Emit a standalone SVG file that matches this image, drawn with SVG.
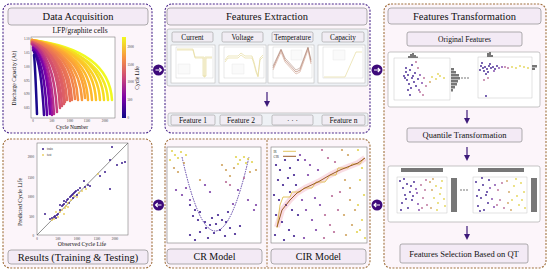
<svg xmlns="http://www.w3.org/2000/svg" width="550" height="273" viewBox="0 0 550 273">
<style>
.pp{fill:#fcf5fa;stroke:#4b2a8c;stroke-width:1.1;stroke-dasharray:2 1.4}
.pb{fill:#fcf5fa;stroke:#a0703c;stroke-width:1.1;stroke-dasharray:2 1.4}
.tb{fill:#f3eaf5;stroke:#8c8c8c;stroke-width:0.7}
.sb{fill:#f1edf4;stroke:#9a9a9a;stroke-width:0.6}
.t{font-family:"Liberation Serif","Times New Roman",serif;fill:#111;text-anchor:middle}
.tick{font-family:"Liberation Serif",serif;font-size:3.2px;fill:#333}
.frame{fill:#fff;stroke:#666;stroke-width:0.5}
.mini{fill:#fff;stroke:#b0b0b0;stroke-width:0.5}
.ml{fill:none;stroke:#e6dca0;stroke-width:0.7}
.cv{fill:none;stroke-width:2.5;stroke-linecap:round}
.p1{fill:#3b1c8c}.p2{fill:#7a3fa6}.p3{fill:#b86a96}.p4{fill:#cfa35e}.p5{fill:#e3d453}
.hist{fill:#777}
.arr{stroke:#3d1a7a;stroke-width:1.2;fill:none}
.circ{fill:#3d0a7a}
</style>
<defs>
<marker id="ah" markerWidth="6" markerHeight="6" refX="3" refY="3" orient="auto" markerUnits="userSpaceOnUse"><path d="M0,0 L6,3 L0,6 z" fill="#3d1a7a"/></marker>
<linearGradient id="cb" x1="0" y1="1" x2="0" y2="0"><stop offset="0" stop-color="#0d0887"/><stop offset="0.25" stop-color="#7e03a8"/><stop offset="0.5" stop-color="#cc4778"/><stop offset="0.75" stop-color="#f89540"/><stop offset="1" stop-color="#f0f921"/></linearGradient>
</defs>
<rect width="550" height="273" fill="#fff"/>

<g id="data-acquisition">
<rect class="pp" x="3" y="4" width="149" height="129" rx="7"/>
<rect class="tb" x="8" y="8" width="140" height="17" rx="3"/>
<text class="t" x="78" y="20" font-size="10.5">Data Acquisition</text>
<text class="t" x="80" y="32.5" font-size="7.5">LFP/graphite cells</text>
<rect class="frame" x="31" y="37" width="84" height="81"/>
<path class="cv" stroke="#f0f921" d="M32,40 Q109,50 112,100"/>
<path class="cv" stroke="#f3e822" d="M32,42 Q105,52 108,100"/>
<path class="cv" stroke="#f5dc22" d="M32,40 Q101,50 104,100"/>
<path class="cv" stroke="#fad025" d="M32,41 Q97,51 100,100"/>
<path class="cv" stroke="#fcc428" d="M32,40 Q93,50 96,100"/>
<path class="cv" stroke="#fdb82d" d="M32,41 Q89,51 92,100"/>
<path class="cv" stroke="#fdae32" d="M32,40 Q85,50 88,100"/>
<path class="cv" stroke="#fba238" d="M32,41 Q82,51 85,98"/>
<path class="cv" stroke="#f99b3e" d="M32,42 Q79,52 82,100"/>
<path class="cv" stroke="#f68f44" d="M32,40 Q75,50 78,100"/>
<path class="cv" stroke="#f1834b" d="M32,41 Q72,51 75,99"/>
<path class="cv" stroke="#ec7853" d="M32,42 Q69,52 72,100"/>
<path class="cv" stroke="#e87058" d="M32,43 Q67,53 70,101"/>
<path class="cv" stroke="#e56b5d" d="M32,44 Q64,54 67,100"/>
<path class="cv" stroke="#e06462" d="M32,43 Q62,53 65,102"/>
<path class="cv" stroke="#dd5e66" d="M32,42 Q61,52 64,104"/>
<path class="cv" stroke="#d8576b" d="M32,44 Q59,54 62,106"/>
<path class="cv" stroke="#d24f70" d="M32,43 Q57,53 60,108"/>
<path class="cv" stroke="#c43e7f" d="M32,44 Q54,54 57,112"/>
<path class="cv" stroke="#b52f8c" d="M33,45 Q51,55 54,114"/>
<path class="cv" stroke="#9c179e" d="M33,47 Q49,57 52,115"/>
<path class="cv" stroke="#7a04a8" d="M33,48 Q47,58 50,114"/>
<path class="cv" stroke="#5a02a3" d="M33,50 Q44,60 47,115"/>
<path class="cv" stroke="#3a049a" d="M34,52 Q41,62 44,115"/>
<path class="cv" stroke="#1a0a8c" d="M34,55 Q35,62 37,114"/>
<g class="tick" text-anchor="end">
<text x="29.5" y="40">1.10</text><text x="29.5" y="54">1.05</text><text x="29.5" y="68">1.00</text><text x="29.5" y="82">0.95</text><text x="29.5" y="95">0.90</text><text x="29.5" y="109">0.85</text>
</g>
<g class="tick" text-anchor="middle">
<text x="33" y="122">0</text><text x="52" y="122">500</text><text x="70" y="122">1000</text><text x="87" y="122">1500</text><text x="105" y="122">2000</text>
</g>
<text class="t" x="72" y="129" font-size="5.5">Cycle Number</text>
<text class="t" font-size="5.5" transform="translate(16,78) rotate(-90)">Discharge Capacity (Ah)</text>
<rect x="122" y="37" width="4" height="81" fill="url(#cb)"/>
<g class="tick">
<text x="127.5" y="48">2000</text><text x="127.5" y="66">1500</text><text x="127.5" y="83">1000</text><text x="127.5" y="101">500</text><text x="127.5" y="119">0</text>
</g>
<text class="t" font-size="5.5" transform="translate(139,78) rotate(-90)">Cycle Life</text>
</g>

<g id="features-extraction">
<rect class="pp" x="165" y="4" width="205" height="129" rx="7"/>
<rect class="tb" x="167" y="8" width="200" height="17" rx="3"/>
<text class="t" x="267" y="20" font-size="10.5">Features Extraction</text>
<rect x="167" y="29" width="201" height="57" rx="2" fill="#eef1f5" stroke="#a8a8a8" stroke-width="0.6"/>
<rect class="sb" x="172" y="32" width="41" height="10" rx="1.5"/>
<rect class="sb" x="222" y="32" width="41" height="10" rx="1.5"/>
<rect class="sb" x="272" y="32" width="41" height="10" rx="1.5"/>
<rect class="sb" x="322" y="32" width="42" height="10" rx="1.5"/>
<text class="t" x="192.5" y="39.6" font-size="7.3">Current</text>
<text class="t" x="242.5" y="39.6" font-size="7.3">Voltage</text>
<text class="t" x="292.5" y="39.6" font-size="7.3">Temperature</text>
<text class="t" x="343" y="39.6" font-size="7.3">Capacity</text>
<rect class="mini" x="171" y="45" width="44" height="38"/>
<rect class="mini" x="219" y="45" width="47" height="38"/>
<rect class="mini" x="268" y="45" width="46" height="38"/>
<rect class="mini" x="318" y="45" width="47" height="38"/>
<g fill="none" stroke="#c8c8c8" stroke-width="0.4">
<rect x="176" y="47" width="37" height="31"/>
<rect x="224" y="47" width="40" height="31"/>
<rect x="273" y="47" width="39" height="31"/>
<rect x="323" y="47" width="40" height="31"/>
</g>
<path class="ml" d="M177,49 H193 L195,57 H204 V77 H205 V57 H212"/>
<path class="ml" d="M177,50 H193 L195,58 H203 V76 H206 V58 H212" stroke="#eee2b0"/>
<rect x="178" y="64" width="12" height="10" fill="#fafafa" stroke="#ddd" stroke-width="0.3"/>
<path class="ml" d="M225,60 L228,56 H238 L241,53 L245,56 H252 L254,62 L256,70 L258,76 L260,58 L263,55"/>
<path class="ml" d="M225,62 L228,58 H238 L241,55 L245,58 H252 L254,64 L256,72 L258,77 L260,60 L263,57" stroke="#eee2b0"/>
<rect x="232" y="64" width="12" height="10" fill="#fafafa" stroke="#ddd" stroke-width="0.3"/>
<path d="M273,68 L281,50 L285,60 L296,72 L300,70 L308,48 L311,62" fill="none" stroke="#c09080" stroke-width="0.8"/>
<path d="M273,70 L281,52 L285,62 L296,74 L300,72 L308,50 L311,64" fill="none" stroke="#d8b0a0" stroke-width="0.7"/>
<path d="M273,66 L281,49 L285,58 L296,70 L300,68 L308,47 L311,60" fill="none" stroke="#a07868" stroke-width="0.5"/>
<rect x="291" y="50" width="11" height="10" fill="#fafafa" stroke="#ddd" stroke-width="0.3"/>
<path class="ml" d="M324,77 H345 L356,52 H362"/>
<rect x="333" y="50" width="12" height="10" fill="#fafafa" stroke="#ddd" stroke-width="0.3"/>
<rect x="168" y="113" width="200" height="13" rx="2" fill="#eef1f5" stroke="#a8a8a8" stroke-width="0.6"/>
<rect class="sb" x="171" y="115" width="44" height="10" rx="1.5"/>
<rect class="sb" x="220" y="115" width="42" height="10" rx="1.5"/>
<rect class="sb" x="272" y="115" width="41" height="10" rx="1.5"/>
<rect class="sb" x="322" y="115" width="43" height="10" rx="1.5"/>
<text class="t" x="193" y="122.6" font-size="7.5">Feature 1</text>
<text class="t" x="241" y="122.6" font-size="7.5">Feature 2</text>
<text class="t" x="292.5" y="122.6" font-size="7.5">· · ·</text>
<text class="t" x="343.5" y="122.6" font-size="7.5">Feature n</text>
</g>

<g id="features-transformation">
<rect class="pb" x="384" y="4" width="162" height="264" rx="7"/>
<rect class="tb" x="388" y="8" width="153" height="16" rx="3"/>
<text class="t" x="464.5" y="19.8" font-size="10.5">Features Transformation</text>
<rect class="tb" x="407" y="32" width="115" height="14" rx="2"/>
<text class="t" x="464.5" y="41.5" font-size="7.6">Original Features</text>
<rect x="388" y="52" width="152" height="55" rx="2" fill="#fff" stroke="#a0a0a0" stroke-width="0.6"/>
<rect x="394" y="58" width="56" height="42" fill="none" stroke="#bbb" stroke-width="0.4"/>
<g>
<circle class="p1" cx="406" cy="72" r="0.9"/><circle class="p1" cx="408" cy="75" r="0.9"/><circle class="p1" cx="410" cy="70" r="0.9"/><circle class="p1" cx="412" cy="78" r="0.9"/><circle class="p1" cx="407" cy="80" r="0.9"/><circle class="p1" cx="409" cy="84" r="0.9"/><circle class="p1" cx="411" cy="88" r="0.9"/><circle class="p1" cx="413" cy="76" r="0.9"/><circle class="p1" cx="415" cy="73" r="0.9"/><circle class="p1" cx="405" cy="78" r="0.9"/><circle class="p1" cx="408" cy="90" r="0.9"/><circle class="p1" cx="410" cy="95" r="0.9"/><circle class="p1" cx="414" cy="82" r="0.9"/><circle class="p1" cx="416" cy="86" r="0.9"/><circle class="p1" cx="418" cy="79" r="0.9"/><circle class="p1" cx="412" cy="65" r="0.9"/><circle class="p2" cx="420" cy="75" r="0.9"/><circle class="p2" cx="422" cy="83" r="0.9"/><circle class="p2" cx="419" cy="90" r="0.9"/><circle class="p1" cx="404" cy="76" r="0.9"/><circle class="p1" cx="406" cy="68" r="0.9"/>
<circle class="p3" cx="418" cy="68" r="0.9"/><circle class="p3" cx="420" cy="92" r="0.9"/><circle class="p3" cx="424" cy="78" r="0.9"/><circle class="p3" cx="426" cy="86" r="0.9"/><circle class="p3" cx="416" cy="62" r="0.9"/><circle class="p3" cx="423" cy="95" r="0.9"/>
<circle class="p5" cx="432" cy="77" r="0.9"/><circle class="p5" cx="436" cy="79" r="0.9"/><circle class="p5" cx="440" cy="76" r="0.9"/><circle class="p5" cx="444" cy="78" r="0.9"/><circle class="p4" cx="430" cy="82" r="0.9"/><circle class="p5" cx="438" cy="74" r="0.9"/>
</g>
<g class="hist">
<rect x="451" y="68" width="3" height="2.5"/><rect x="451" y="71" width="5" height="2.5"/><rect x="451" y="74" width="8" height="2.5"/><rect x="451" y="77" width="9" height="2.5"/><rect x="451" y="80" width="7" height="2.5"/><rect x="451" y="83" width="6" height="2.5"/><rect x="451" y="86" width="4" height="2.5"/><rect x="451" y="89" width="2" height="2.5"/>
<rect x="408" y="56" width="2" height="2"/><rect x="410" y="54" width="2" height="4"/><rect x="412" y="53" width="2" height="5"/><rect x="414" y="55" width="2" height="3"/><rect x="416" y="56.5" width="2" height="1.5"/>
</g>
<g fill="#444"><circle cx="462" cy="78" r="0.7"/><circle cx="465" cy="78" r="0.7"/><circle cx="468" cy="78" r="0.7"/></g>
<rect x="478" y="57" width="54" height="41" fill="none" stroke="#bbb" stroke-width="0.4"/>
<g>
<circle class="p1" cx="481" cy="66" r="0.9"/><circle class="p1" cx="483" cy="68" r="0.9"/><circle class="p1" cx="485" cy="67" r="0.9"/><circle class="p1" cx="487" cy="69" r="0.9"/><circle class="p1" cx="489" cy="66" r="0.9"/><circle class="p1" cx="491" cy="68" r="0.9"/><circle class="p1" cx="493" cy="67" r="0.9"/><circle class="p1" cx="495" cy="69" r="0.9"/><circle class="p1" cx="497" cy="66" r="0.9"/><circle class="p2" cx="499" cy="68" r="0.9"/><circle class="p1" cx="484" cy="71" r="0.9"/><circle class="p1" cx="488" cy="72" r="0.9"/><circle class="p1" cx="482" cy="63" r="0.9"/><circle class="p1" cx="486" cy="74" r="0.9"/><circle class="p1" cx="490" cy="64" r="0.9"/><circle class="p2" cx="494" cy="71" r="0.9"/><circle class="p1" cx="480" cy="70" r="0.9"/><circle class="p2" cx="502" cy="67" r="0.9"/>
<circle class="p3" cx="505" cy="67" r="0.9"/><circle class="p3" cx="508" cy="68" r="0.9"/><circle class="p3" cx="488" cy="78" r="0.9"/><circle class="p3" cx="484" cy="80" r="0.9"/>
<circle class="p5" cx="512" cy="67" r="0.9"/><circle class="p5" cx="516" cy="68" r="0.9"/><circle class="p5" cx="520" cy="66" r="0.9"/><circle class="p5" cx="524" cy="67" r="0.9"/><circle class="p5" cx="528" cy="68" r="0.9"/><circle class="p1" cx="486" cy="96" r="0.9"/>
</g>
<g class="hist">
<rect x="532" y="65" width="5" height="2.5"/><rect x="532" y="68" width="3" height="2"/>
<rect x="487" y="53" width="2" height="4"/><rect x="489" y="52" width="2" height="5"/><rect x="491" y="55" width="2" height="2"/>
</g>
<line class="arr" x1="467" y1="110" x2="467" y2="121" marker-end="url(#ah)"/>
<rect class="tb" x="407" y="128" width="115" height="14" rx="2"/>
<text class="t" x="464.5" y="137.8" font-size="8.5">Quantile Transformation</text>
<line class="arr" x1="467" y1="147" x2="467" y2="158" marker-end="url(#ah)"/>
<rect x="388" y="166" width="152" height="56" rx="2" fill="#fff" stroke="#a0a0a0" stroke-width="0.6"/>
<rect x="397" y="177" width="50" height="36" fill="none" stroke="#bbb" stroke-width="0.4"/>
<rect class="hist" x="401" y="168" width="42" height="4"/>
<rect class="hist" x="451" y="178" width="6" height="34"/>
<g>
<circle class="p1" cx="400" cy="181" r="0.9"/><circle class="p1" cx="403" cy="188" r="0.9"/><circle class="p1" cx="405" cy="195" r="0.9"/><circle class="p1" cx="402" cy="203" r="0.9"/><circle class="p1" cx="407" cy="184" r="0.9"/><circle class="p1" cx="410" cy="192" r="0.9"/><circle class="p1" cx="412" cy="200" r="0.9"/><circle class="p1" cx="408" cy="208" r="0.9"/><circle class="p1" cx="414" cy="182" r="0.9"/><circle class="p2" cx="416" cy="189" r="0.9"/><circle class="p1" cx="413" cy="196" r="0.9"/><circle class="p2" cx="418" cy="204" r="0.9"/><circle class="p1" cx="401" cy="210" r="0.9"/><circle class="p1" cx="406" cy="199" r="0.9"/><circle class="p1" cx="411" cy="186" r="0.9"/><circle class="p2" cx="417" cy="193" r="0.9"/><circle class="p2" cx="419" cy="210" r="0.9"/><circle class="p1" cx="404" cy="179" r="0.9"/>
<circle class="p3" cx="421" cy="185" r="0.9"/><circle class="p3" cx="423" cy="198" r="0.9"/><circle class="p3" cx="425" cy="190" r="0.9"/><circle class="p3" cx="427" cy="205" r="0.9"/><circle class="p3" cx="422" cy="208" r="0.9"/><circle class="p3" cx="426" cy="180" r="0.9"/>
<circle class="p4" cx="430" cy="182" r="0.9"/><circle class="p4" cx="432" cy="190" r="0.9"/><circle class="p5" cx="434" cy="198" r="0.9"/><circle class="p5" cx="436" cy="186" r="0.9"/><circle class="p5" cx="438" cy="203" r="0.9"/><circle class="p5" cx="440" cy="194" r="0.9"/><circle class="p5" cx="442" cy="181" r="0.9"/><circle class="p5" cx="444" cy="199" r="0.9"/><circle class="p4" cx="431" cy="208" r="0.9"/><circle class="p5" cx="437" cy="210" r="0.9"/><circle class="p5" cx="441" cy="188" r="0.9"/><circle class="p5" cx="445" cy="206" r="0.9"/><circle class="p4" cx="433" cy="179" r="0.9"/>
</g>
<g fill="#444"><circle cx="461" cy="190" r="0.7"/><circle cx="464" cy="190" r="0.7"/><circle cx="467" cy="190" r="0.7"/></g>
<rect x="473" y="177" width="54" height="36" fill="none" stroke="#bbb" stroke-width="0.4"/>
<rect class="hist" x="478" y="168" width="46" height="4"/>
<rect class="hist" x="531" y="178" width="6" height="34"/>
<g>
<circle class="p1" cx="476" cy="182" r="0.9"/><circle class="p1" cx="479" cy="190" r="0.9"/><circle class="p1" cx="481" cy="198" r="0.9"/><circle class="p1" cx="478" cy="206" r="0.9"/><circle class="p1" cx="483" cy="185" r="0.9"/><circle class="p1" cx="486" cy="195" r="0.9"/><circle class="p1" cx="488" cy="203" r="0.9"/><circle class="p1" cx="484" cy="210" r="0.9"/><circle class="p2" cx="490" cy="188" r="0.9"/><circle class="p2" cx="492" cy="199" r="0.9"/><circle class="p1" cx="477" cy="196" r="0.9"/><circle class="p1" cx="482" cy="178" r="0.9"/><circle class="p1" cx="489" cy="180" r="0.9"/><circle class="p2" cx="494" cy="207" r="0.9"/><circle class="p1" cx="480" cy="211" r="0.9"/><circle class="p1" cx="487" cy="192" r="0.9"/><circle class="p2" cx="495" cy="185" r="0.9"/>
<circle class="p3" cx="498" cy="190" r="0.9"/><circle class="p3" cx="500" cy="200" r="0.9"/><circle class="p3" cx="502" cy="183" r="0.9"/><circle class="p3" cx="504" cy="208" r="0.9"/><circle class="p3" cx="497" cy="205" r="0.9"/>
<circle class="p4" cx="507" cy="181" r="0.9"/><circle class="p4" cx="509" cy="192" r="0.9"/><circle class="p5" cx="512" cy="200" r="0.9"/><circle class="p5" cx="514" cy="186" r="0.9"/><circle class="p5" cx="517" cy="196" r="0.9"/><circle class="p5" cx="519" cy="205" r="0.9"/><circle class="p5" cx="521" cy="183" r="0.9"/><circle class="p5" cx="524" cy="192" r="0.9"/><circle class="p4" cx="511" cy="210" r="0.9"/><circle class="p5" cx="516" cy="179" r="0.9"/><circle class="p5" cx="522" cy="200" r="0.9"/><circle class="p5" cx="525" cy="208" r="0.9"/><circle class="p4" cx="508" cy="203" r="0.9"/>
</g>
<line class="arr" x1="467" y1="226" x2="467" y2="237" marker-end="url(#ah)"/>
<rect class="tb" x="400" y="244" width="128" height="19" rx="2"/>
<text class="t" x="464" y="256.5" font-size="8.5">Features Selection Based on QT</text>
</g>

<g id="models">
<rect class="pb" x="165" y="139" width="205" height="129" rx="7"/>
<line x1="267" y1="140" x2="267" y2="267" stroke="#a0703c" stroke-width="1" stroke-dasharray="2 1.4"/>
<g id="cr-model">
<rect class="frame" x="167" y="147" width="94" height="96"/>
<path d="M182,157 Q215,305 249,157" fill="none" stroke="#4b2c9c" stroke-width="0.9" stroke-dasharray="1.5 1"/>
<g>
<circle class="p5" cx="172" cy="151" r="1.1"/><circle class="p5" cx="175" cy="155" r="1.1"/><circle class="p5" cx="181" cy="152" r="1.1"/><circle class="p5" cx="186" cy="155" r="1.1"/><circle class="p5" cx="170" cy="160" r="1.1"/><circle class="p5" cx="178" cy="158" r="1.1"/><circle class="p5" cx="236" cy="157" r="1.1"/><circle class="p5" cx="240" cy="160" r="1.1"/><circle class="p5" cx="244" cy="157" r="1.1"/><circle class="p5" cx="248" cy="159" r="1.1"/><circle class="p5" cx="246" cy="163" r="1.1"/><circle class="p5" cx="252" cy="162" r="1.1"/><circle class="p5" cx="238" cy="164" r="1.1"/>
<circle class="p4" cx="174" cy="168" r="1.1"/><circle class="p4" cx="178" cy="172" r="1.1"/><circle class="p4" cx="184" cy="163" r="1.1"/><circle class="p4" cx="222" cy="165" r="1.1"/><circle class="p4" cx="226" cy="170" r="1.1"/><circle class="p4" cx="230" cy="176" r="1.1"/><circle class="p4" cx="234" cy="168" r="1.1"/><circle class="p4" cx="250" cy="172" r="1.1"/><circle class="p4" cx="256" cy="170" r="1.1"/><circle class="p4" cx="200" cy="180" r="1.1"/>
<circle class="p2" cx="176" cy="190" r="1.1"/><circle class="p2" cx="182" cy="195" r="1.1"/><circle class="p2" cx="186" cy="188" r="1.1"/><circle class="p2" cx="190" cy="200" r="1.1"/><circle class="p2" cx="205" cy="185" r="1.1"/><circle class="p2" cx="210" cy="192" r="1.1"/><circle class="p3" cx="226" cy="182" r="1.1"/><circle class="p3" cx="230" cy="185" r="1.1"/><circle class="p2" cx="238" cy="190" r="1.1"/><circle class="p3" cx="244" cy="178" r="1.1"/><circle class="p2" cx="254" cy="210" r="1.1"/><circle class="p2" cx="256" cy="205" r="1.1"/><circle class="p2" cx="248" cy="200" r="1.1"/>
<circle class="p1" cx="190" cy="205" r="1.1"/><circle class="p1" cx="195" cy="210" r="1.1"/><circle class="p1" cx="200" cy="212" r="1.1"/><circle class="p1" cx="198" cy="220" r="1.1"/><circle class="p1" cx="205" cy="222" r="1.1"/><circle class="p1" cx="210" cy="225" r="1.1"/><circle class="p1" cx="212" cy="218" r="1.1"/><circle class="p1" cx="218" cy="215" r="1.1"/><circle class="p1" cx="222" cy="220" r="1.1"/><circle class="p1" cx="226" cy="222" r="1.1"/><circle class="p1" cx="228" cy="212" r="1.1"/><circle class="p1" cx="220" cy="230" r="1.1"/><circle class="p1" cx="214" cy="233" r="1.1"/><circle class="p1" cx="208" cy="238" r="1.1"/><circle class="p1" cx="200" cy="232" r="1.1"/><circle class="p1" cx="195" cy="240" r="1.1"/><circle class="p1" cx="190" cy="235" r="1.1"/><circle class="p1" cx="225" cy="236" r="1.1"/><circle class="p1" cx="230" cy="228" r="1.1"/><circle class="p1" cx="235" cy="234" r="1.1"/><circle class="p1" cx="240" cy="226" r="1.1"/><circle class="p1" cx="206" cy="228" r="1.1"/><circle class="p1" cx="216" cy="224" r="1.1"/><circle class="p2" cx="233" cy="204" r="1.1"/><circle class="p1" cx="193" cy="216" r="1.1"/>
</g>
<rect class="tb" x="167" y="249" width="95" height="15" rx="3"/>
<text class="t" x="214.5" y="260" font-size="10">CR Model</text>
</g>
<g id="cir-model">
<rect class="frame" x="271" y="147" width="96" height="96"/>
<path d="M277,227 L282,210 L290,200 L297,193 L305,188 L318,182 L330,175 L340,170 L350,166 L358,163 L365,158" fill="none" stroke="#f4c0cc" stroke-width="6" stroke-opacity="0.55" stroke-linejoin="round"/>
<g>
<circle class="p1" cx="276" cy="165" r="1.1"/><circle class="p1" cx="280" cy="170" r="1.1"/><circle class="p1" cx="285" cy="160" r="1.1"/><circle class="p1" cx="290" cy="168" r="1.1"/><circle class="p1" cx="278" cy="180" r="1.1"/><circle class="p1" cx="283" cy="185" r="1.1"/><circle class="p1" cx="288" cy="178" r="1.1"/><circle class="p1" cx="294" cy="175" r="1.1"/><circle class="p1" cx="274" cy="195" r="1.1"/><circle class="p1" cx="279" cy="200" r="1.1"/><circle class="p1" cx="286" cy="205" r="1.1"/><circle class="p1" cx="292" cy="210" r="1.1"/><circle class="p1" cx="276" cy="215" r="1.1"/><circle class="p1" cx="282" cy="222" r="1.1"/><circle class="p1" cx="289" cy="230" r="1.1"/><circle class="p1" cx="294" cy="236" r="1.1"/><circle class="p1" cx="284" cy="240" r="1.1"/><circle class="p1" cx="275" cy="235" r="1.1"/><circle class="p1" cx="298" cy="160" r="1.1"/><circle class="p1" cx="296" cy="185" r="1.1"/><circle class="p1" cx="290" cy="192" r="1.1"/><circle class="p1" cx="298" cy="215" r="1.1"/>
<circle class="p2" cx="300" cy="155" r="1.1"/><circle class="p2" cx="305" cy="160" r="1.1"/><circle class="p2" cx="310" cy="165" r="1.1"/><circle class="p2" cx="302" cy="200" r="1.1"/><circle class="p2" cx="306" cy="210" r="1.1"/><circle class="p2" cx="312" cy="220" r="1.1"/><circle class="p2" cx="316" cy="230" r="1.1"/><circle class="p2" cx="304" cy="238" r="1.1"/><circle class="p2" cx="315" cy="198" r="1.1"/><circle class="p2" cx="318" cy="170" r="1.1"/><circle class="p2" cx="308" cy="175" r="1.1"/><circle class="p2" cx="320" cy="205" r="1.1"/>
<circle class="p3" cx="322" cy="150" r="1.1"/><circle class="p3" cx="328" cy="158" r="1.1"/><circle class="p3" cx="335" cy="162" r="1.1"/><circle class="p3" cx="325" cy="215" r="1.1"/><circle class="p3" cx="330" cy="225" r="1.1"/><circle class="p3" cx="334" cy="232" r="1.1"/><circle class="p3" cx="324" cy="238" r="1.1"/><circle class="p3" cx="338" cy="210" r="1.1"/><circle class="p3" cx="332" cy="196" r="1.1"/><circle class="p3" cx="340" cy="192" r="1.1"/>
<circle class="p4" cx="342" cy="150" r="1.1"/><circle class="p4" cx="348" cy="155" r="1.1"/><circle class="p4" cx="345" cy="180" r="1.1"/><circle class="p4" cx="350" cy="200" r="1.1"/><circle class="p4" cx="344" cy="215" r="1.1"/><circle class="p4" cx="352" cy="225" r="1.1"/><circle class="p4" cx="346" cy="235" r="1.1"/><circle class="p4" cx="355" cy="210" r="1.1"/><circle class="p4" cx="350" cy="188" r="1.1"/>
<circle class="p5" cx="358" cy="150" r="1.1"/><circle class="p5" cx="362" cy="168" r="1.1"/><circle class="p5" cx="360" cy="180" r="1.1"/><circle class="p5" cx="364" cy="195" r="1.1"/><circle class="p5" cx="358" cy="205" r="1.1"/><circle class="p5" cx="362" cy="220" r="1.1"/><circle class="p5" cx="357" cy="232" r="1.1"/><circle class="p5" cx="365" cy="238" r="1.1"/><circle class="p5" cx="360" cy="230" r="1.1"/>
</g>
<path d="M277,228 L280,205 L283,197 H290 L292,192 H300 L304,188 H312 L316,182 H325 L330,175 H336 L338,168 H348 L352,164 H360 L364,158" fill="none" stroke="#e0c050" stroke-width="0.9"/>
<path d="M277,227 L282,210 L290,200 L297,193 L305,188 L318,182 L330,175 L340,170 L350,166 L358,163 L365,158" fill="none" stroke="#9a5a28" stroke-width="1"/>
<text class="tick" x="273.5" y="152.5">IR</text>
<text class="tick" x="273.5" y="157.5">CIR</text>
<line x1="283" y1="151.3" x2="296" y2="151.3" stroke="#e0c050" stroke-width="0.9"/>
<line x1="283" y1="156.3" x2="296" y2="156.3" stroke="#9a5a28" stroke-width="1"/>
<rect class="tb" x="271" y="249" width="95" height="15" rx="3"/>
<text class="t" x="318.5" y="260" font-size="10">CIR Model</text>
</g>
</g>

<g id="results">
<rect class="pb" x="3" y="139" width="149" height="129" rx="7"/>
<rect class="frame" x="37" y="143" width="91" height="92"/>
<line x1="37" y1="235" x2="128" y2="143" stroke="#444" stroke-width="0.6"/>
<g class="tick" text-anchor="end" font-size="4">
<text x="34" y="236.5">0</text><text x="34" y="217.5">500</text><text x="34" y="197.5">1000</text><text x="34" y="178.5">1500</text><text x="34" y="158">2000</text>
</g>
<g class="tick" text-anchor="middle" font-size="4">
<text x="37" y="240">0</text><text x="58" y="240">500</text><text x="77" y="240">1000</text><text x="97" y="240">1500</text><text x="115" y="240">2000</text>
</g>
<text class="t" x="82" y="245.5" font-size="5.8">Observed Cycle Life</text>
<text class="t" font-size="5.8" transform="translate(22,202) rotate(-90)">Predicted Cycle Life</text>
<g>
<circle class="p1" cx="50" cy="219" r="1"/><circle class="p1" cx="52" cy="218" r="1"/><circle class="p1" cx="54" cy="217" r="1"/><circle class="p1" cx="55" cy="216" r="1"/><circle class="p1" cx="56" cy="218" r="1"/><circle class="p1" cx="57" cy="215" r="1"/><circle class="p1" cx="58" cy="214" r="1"/><circle class="p1" cx="60" cy="210" r="1"/><circle class="p1" cx="62" cy="206" r="1"/><circle class="p1" cx="63" cy="205" r="1"/><circle class="p1" cx="64" cy="204" r="1"/><circle class="p1" cx="66" cy="202" r="1"/><circle class="p1" cx="67" cy="200" r="1"/><circle class="p1" cx="68" cy="199" r="1"/><circle class="p1" cx="70" cy="197" r="1"/><circle class="p1" cx="71" cy="196" r="1"/><circle class="p1" cx="72" cy="195" r="1"/><circle class="p1" cx="73" cy="194" r="1"/><circle class="p1" cx="74" cy="193" r="1"/><circle class="p1" cx="75" cy="192" r="1"/><circle class="p1" cx="76" cy="191" r="1"/><circle class="p1" cx="78" cy="190" r="1"/><circle class="p1" cx="80" cy="188" r="1"/><circle class="p1" cx="64" cy="201" r="1"/><circle class="p1" cx="69" cy="203" r="1"/><circle class="p1" cx="73" cy="198" r="1"/><circle class="p1" cx="77" cy="195" r="1"/><circle class="p1" cx="85" cy="187" r="1"/><circle class="p1" cx="88" cy="185" r="1"/><circle class="p1" cx="84" cy="181" r="1"/><circle class="p1" cx="60" cy="205" r="1"/><circle class="p1" cx="45" cy="214" r="1"/><circle class="p1" cx="110" cy="189" r="1"/><circle class="p1" cx="112" cy="147" r="1"/><circle class="p1" cx="110" cy="160" r="1"/><circle class="p1" cx="125" cy="162" r="1"/><circle class="p1" cx="122" cy="163" r="1"/><circle class="p1" cx="117" cy="165" r="1"/><circle class="p1" cx="105" cy="172" r="1"/><circle class="p1" cx="100" cy="176" r="1"/><circle class="p1" cx="90" cy="186" r="1"/>
</g>
<g stroke="#e6c440" stroke-width="0.6">
<path d="M51,219 l2,2 m0,-2 l-2,2 M53,218 l2,2 m0,-2 l-2,2 M57,216 l2,2 m0,-2 l-2,2 M59,211 l2,2 m0,-2 l-2,2 M61,209 l2,2 m0,-2 l-2,2 M64,207 l2,2 m0,-2 l-2,2 M65,205 l2,2 m0,-2 l-2,2 M67,202 l2,2 m0,-2 l-2,2 M70,199 l2,2 m0,-2 l-2,2 M73,195 l2,2 m0,-2 l-2,2 M78,192 l2,2 m0,-2 l-2,2 M81,190 l2,2 m0,-2 l-2,2 M76,196 l2,2 m0,-2 l-2,2 M63,213 l2,2 m0,-2 l-2,2 M55,211 l2,2 m0,-2 l-2,2 M97,173 l2,2 m0,-2 l-2,2 M67,206 l2,2 m0,-2 l-2,2 M85,188 l2,2 m0,-2 l-2,2"/>
<path d="M42,154 l2,2 m0,-2 l-2,2"/>
</g>
<circle class="p1" cx="43" cy="149" r="1"/>
<text class="tick" x="47" y="150.3">train</text>
<text class="tick" x="47" y="156.3">test</text>
<rect class="tb" x="8" y="250" width="140" height="14" rx="3"/>
<text class="t" x="78" y="260.8" font-size="10.5">Results (Training &amp; Testing)</text>
</g>

<g id="connectors">
<circle class="circ" cx="158.5" cy="70" r="5.5"/>
<path d="M155.5,70 H161.3 M159.3,68 L161.5,70 L159.3,72" stroke="#fff" stroke-width="1.1" fill="none"/>
<circle class="circ" cx="377" cy="70" r="5.5"/>
<path d="M374,70 H379.8 M377.8,68 L380,70 L377.8,72" stroke="#fff" stroke-width="1.1" fill="none"/>
<circle class="circ" cx="377" cy="205" r="5.5"/>
<path d="M380,205 H374.2 M376.2,203 L374,205 L376.2,207" stroke="#fff" stroke-width="1.1" fill="none"/>
<circle class="circ" cx="158.5" cy="205" r="5.5"/>
<path d="M161.5,205 H155.7 M157.7,203 L155.5,205 L157.7,207" stroke="#fff" stroke-width="1.1" fill="none"/>
<line class="arr" x1="267" y1="92" x2="267" y2="104" marker-end="url(#ah)"/>
</g>
</svg>
